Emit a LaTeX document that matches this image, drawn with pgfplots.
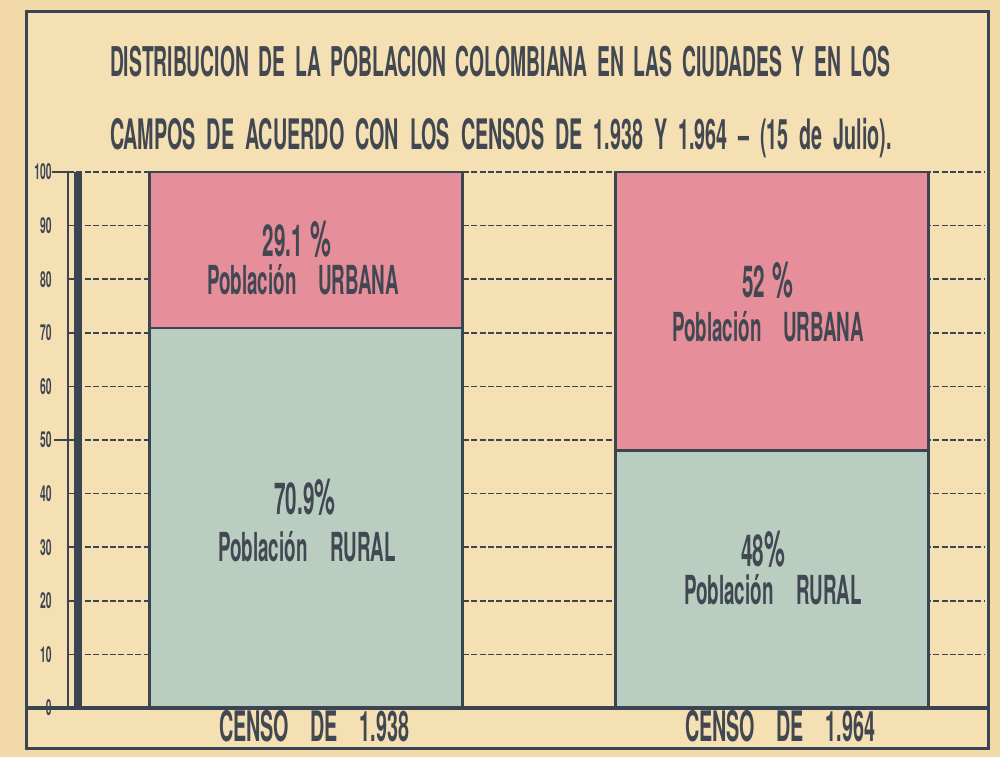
\documentclass[border=0pt]{standalone}
\usepackage{fontspec}
\setmainfont{TeX Gyre Heros}[FakeStretch=0.47]
\usepackage{pgfplots}
\pgfplotsset{compat=1.18}
\definecolor{paper}{HTML}{F1D9A8}
\definecolor{paperin}{HTML}{F5E0B4}
\definecolor{ink}{HTML}{3B4552}
\definecolor{txt}{HTML}{424852}
\definecolor{urb}{HTML}{E68E9A}
\definecolor{rur}{HTML}{B9CEC0}
\begin{document}
\begin{tikzpicture}[font=\bfseries]
\begin{scope}[x=0.5pt,y=-0.5pt,shift={(-34pt,354pt)}]
 \fill[paper] (0,0) rectangle (1000,757);
 \fill[paperin] (27,12) rectangle (988,748);
\end{scope}
\begin{axis}[at={(0,0)}, anchor=south west, scale only axis,
  width=458.5pt, height=268pt,
  xmin=-0.5107, xmax=1.457, ymin=0, ymax=100,
  ybar stacked, bar width=0.672,
  axis line style={draw=none}, major tick length=0pt,
  ytick={0,10,...,100}, xtick={0,1},
  /pgf/number format/assume math mode=true,
  xticklabels={{\makebox[95pt][s]{CENSO DE 1.938}},{\makebox[95pt][s]{CENSO DE 1.964}}},
  ymajorgrids, grid style={ink, line width=0.8pt, dash pattern=on 3pt off 1.2pt},
  yticklabel style={font=\bfseries\fontsize{11}{11}\selectfont, text=ink, anchor=east, inner sep=0pt, xshift=-8pt},
  xticklabel style={font=\bfseries\fontsize{21}{21}\selectfont, text=txt, anchor=center, inner sep=0pt, yshift=-9pt, xshift=4pt},
  clip=false, axis on top=false,
]
\addplot[fill=rur, draw=ink, line width=1.3pt] coordinates {(0,70.9) (1,48)};
\addplot[fill=urb, draw=ink, line width=1.3pt] coordinates {(0,29.1) (1,52)};
\end{axis}
\begin{scope}[x=0.5pt,y=-0.5pt,shift={(-34pt,354pt)}, every node/.style={inner sep=0pt, text=txt}]
 % frame
 \draw[ink, line width=1.5pt] (27,12) rectangle (988,748);
 \draw[ink, line width=2pt] (27,708) -- (988,708);
 % vertical scale lines
 \draw[ink, line width=0.8pt] (68,172) -- (68,708);
 \fill[ink] (74,172) rectangle (82,708);
 % long ticks
 \draw[ink, line width=1pt] (52,172) -- (68,172);
 \draw[ink, line width=1pt] (54,440) -- (68,440);
 \draw[ink, line width=1pt] (27,708) -- (46,708);
 % bar labels
 \node[font=\bfseries\fontsize{22}{22}\selectfont] at (297,239) {29.1\,{\fontsize{25}{25}\selectfont\%}};
 \node[font=\bfseries\fontsize{20}{20}\selectfont] at (303,280) {\makebox[96pt][s]{Población URBANA}};
 \node[font=\bfseries\fontsize{22}{22}\selectfont] at (305,497) {70.9{\fontsize{25}{25}\selectfont\%}};
 \node[font=\bfseries\fontsize{20}{20}\selectfont] at (307,547) {\makebox[89pt][s]{Población RURAL}};
 \node[font=\bfseries\fontsize{22}{22}\selectfont] at (768,280) {52\,{\fontsize{25}{25}\selectfont\%}};
 \node[font=\bfseries\fontsize{20}{20}\selectfont] at (768,327) {\makebox[96pt][s]{Población URBANA}};
 \node[font=\bfseries\fontsize{22}{22}\selectfont] at (763,549) {48{\fontsize{25}{25}\selectfont\%}};
 \node[font=\bfseries\fontsize{20}{20}\selectfont] at (773,590) {\makebox[89pt][s]{Población RURAL}};
 % title
 \node[font=\bfseries\fontsize{20.5}{20.5}\selectfont] at (500,62)
   {\makebox[390pt][s]{DISTRIBUCION DE LA POBLACION COLOMBIANA EN LAS CIUDADES Y EN LOS}};
 \node[font=\bfseries\fontsize{21}{21}\selectfont] at (501,138)
   {\makebox[391pt][s]{CAMPOS DE ACUERDO CON LOS CENSOS DE 1.938 Y 1.964 -- (15 de Julio).}};
\end{scope}
\end{tikzpicture}
\end{document}
